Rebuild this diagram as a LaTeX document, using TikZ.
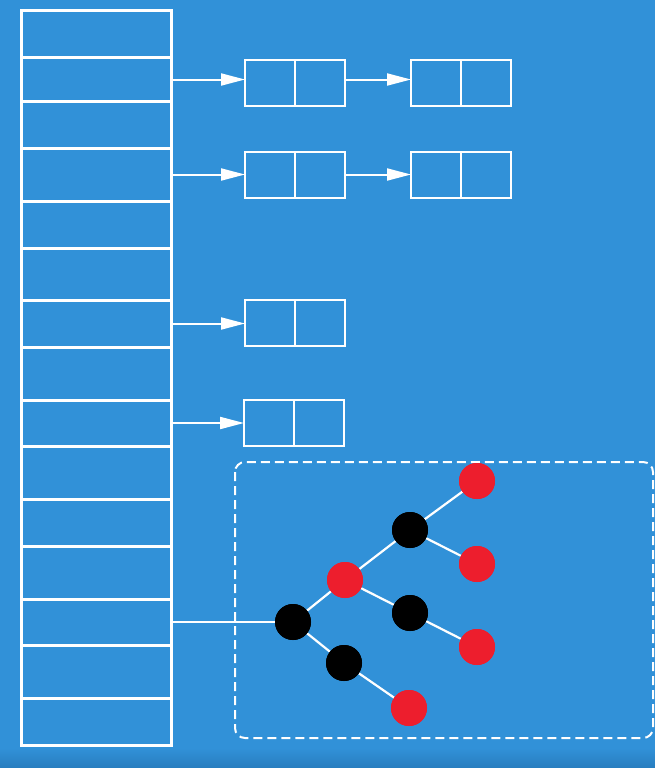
\documentclass[tikz,border=0pt]{standalone}
\usetikzlibrary{arrows.meta,positioning}
\definecolor{bgblue}{RGB}{49,145,216}
\definecolor{bgdark}{RGB}{40,125,190}
\definecolor{rbred}{RGB}{237,30,45}
\begin{document}
\begin{tikzpicture}[x=1pt,y=-1pt,
		cell/.style={draw=white,line width=3pt,minimum width=150pt,inner sep=0pt,outer sep=0pt},
		half/.style={draw=white,line width=2.5pt,minimum width=50pt,minimum height=46pt,inner sep=0pt,outer sep=0pt},
		ptr/.style={white,line width=2pt,-{Triangle[length=24pt,width=12pt]}},
		rb/.style={circle,minimum size=36pt,inner sep=0pt,fill=#1},
		tedge/.style={white,line width=2.2pt}]
		\useasboundingbox (0,0) rectangle (655,768);
		\fill[bgblue] (0,0) rectangle (655,768);
		\shade[top color=bgblue,bottom color=bgdark] (0,748) rectangle (655,768);
		% buckets
		\foreach \t/\b [count=\i] in {11/58,58/101,101/148,148/201,201/248,248/300,300/347,347/400,400/446,446/499,499/546,546/599,599/645,645/698,698/745}
		\node[cell,minimum height={(\b-\t)*1pt}] (r\i) at (96,{(\t+\b)/2}) {};
		% chains
		\node[half] (l1a) at (270,83) {};
		\node[half,right=0pt of l1a] (l1b) {};
		\node[half,right=66pt of l1b] (l1c) {};
		\node[half,right=0pt of l1c] (l1d) {};
		\node[half] (l2a) at (270,175) {};
		\node[half,right=0pt of l2a] (l2b) {};
		\node[half,right=66pt of l2b] (l2c) {};
		\node[half,right=0pt of l2c] (l2d) {};
		\node[half] (l3a) at (270,323) {};
		\node[half,right=0pt of l3a] (l3b) {};
		\node[half] (l4a) at (269,423) {};
		\node[half,right=0pt of l4a] (l4b) {};
		\path[ptr]
		(r2.east) edge (r2.east-|l1a.west)
		(l1b.east|-r2.east) edge (r2.east-|l1c.west)
		(r4.east) edge (r4.east-|l2a.west)
		(l2b.east|-r4.east) edge (r4.east-|l2c.west)
		(r7.east) edge (r7.east-|l3a.west)
		(r9.east) edge (r9.east-|l4a.west);
		% tree
		\draw[white,line width=2pt,dash pattern=on 9pt off 5pt,rounded corners=10pt] (235,462) rectangle (653,738);
		\node[rb=black] (t0) at (293,622) {};
		\node[rb=rbred] (t1) at (345,580) {};
		\node[rb=black] (t2) at (410,530) {};
		\node[rb=rbred] (t3) at (477,481) {};
		\node[rb=rbred] (t4) at (477,564) {};
		\node[rb=black] (t5) at (410,613) {};
		\node[rb=rbred] (t6) at (477,647) {};
		\node[rb=black] (t7) at (344,663) {};
		\node[rb=rbred] (t8) at (409,708) {};
		\path[tedge]
		(r13.east|-t0) edge (t0)
		(t0) edge (t1) edge (t7)
		(t1) edge (t2) edge (t5)
		(t2) edge (t3) edge (t4)
		(t5) edge (t6)
		(t7) edge (t8);
		%redraw nodes over edges
		\foreach \n/\c in {t0/black,t1/rbred,t2/black,t3/rbred,t4/rbred,t5/black,t6/rbred,t7/black,t8/rbred}
		\fill[\c] (\n) circle (18pt);
	\end{tikzpicture}
\end{document}
